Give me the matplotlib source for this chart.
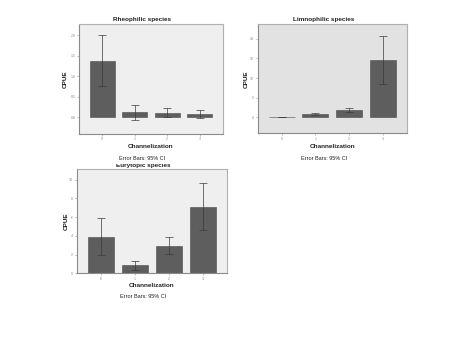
import matplotlib
matplotlib.use("Agg")
import matplotlib.pyplot as plt
from matplotlib.patches import Rectangle
import numpy as np

plt.rcParams['font.family'] = ['Liberation Sans', 'DejaVu Sans']

categories = ["0", "1", "2", "3"]

rheo_mean = [1.37, 0.13, 0.11, 0.07]
rheo_lo = [0.76, -0.06, 0.0, -0.02]
rheo_hi = [2.0, 0.31, 0.23, 0.17]
rheo_ticks = [0.0, 0.5, 1.0, 1.5, 2.0]
rheo_ticklabels = ["0.0", "0.5", "1.0", "1.5", "2.0"]

limno_mean = [0.1, 0.85, 1.8, 14.5]
limno_lo = [0.05, 0.6, 1.3, 8.4]
limno_hi = [0.15, 1.1, 2.3, 20.7]
limno_ticks = [0, 5, 10, 15, 20]
limno_ticklabels = ["0", "5", "10", "15", "20"]

eury_mean = [3.93, 0.86, 2.96, 7.14]
eury_lo = [1.96, 0.32, 2.04, 4.6]
eury_hi = [5.9, 1.36, 3.86, 9.64]
eury_ticks = [0, 2, 4, 6, 8, 10]
eury_ticklabels = ["0", "2", "4", "6", "8", "10"]

W, H = 450, 337
fig = plt.figure(figsize=(W / 100, H / 100), dpi=100)
fig.patch.set_facecolor("white")


def px(x, y):
    return x / W, 1 - y / H


def add_axes(x0, y0, x1, y1):
    return fig.add_axes([x0 / W, 1 - y1 / H, (x1 - x0) / W, (y1 - y0) / H])


def draw(ax, mean, lo, hi, ticks, ticklabels, ylim, xlim, bg):
    x = np.arange(len(categories))
    mean = np.array(mean)
    yerr = np.vstack([mean - np.array(lo), np.array(hi) - mean])
    ax.set_facecolor(bg)
    ax.bar(x, mean, width=0.77, color="#5e5e5e", edgecolor="#4a4a4a", linewidth=0.4, zorder=2)
    ax.errorbar(x, mean, yerr=yerr, fmt="none", ecolor="#3a3a3a", elinewidth=0.5,
                capsize=3.2, capthick=0.5, zorder=3)
    ax.set_xlim(*xlim)
    ax.set_ylim(*ylim)
    ax.set_xticks(x)
    ax.set_xticklabels(categories, fontsize=2.5, color="#777777")
    ax.set_yticks(ticks)
    ax.set_yticklabels(ticklabels, fontsize=2.5, color="#777777")
    ax.tick_params(length=1.5, width=0.4, colors="#888888", pad=1)
    for s in ["top", "right"]:
        ax.spines[s].set_color("#b0b0b0")
        ax.spines[s].set_linewidth(0.8)
    for s in ["left", "bottom"]:
        ax.spines[s].set_color("#8a8a8a")
        ax.spines[s].set_linewidth(0.8)


ax1 = add_axes(79, 24.3, 222.7, 134)
draw(ax1, rheo_mean, rheo_lo, rheo_hi, rheo_ticks, rheo_ticklabels,
     (-0.405, 2.26), (-0.72, 3.71), "#efefef")

ax2 = add_axes(257.7, 24.3, 406.7, 133.3)
draw(ax2, limno_mean, limno_lo, limno_hi, limno_ticks, limno_ticklabels,
     (-4.08, 23.7), (-0.71, 3.70), "#e2e2e2")

ax3 = add_axes(76.7, 169, 226.7, 273.3)
draw(ax3, eury_mean, eury_lo, eury_hi, eury_ticks, eury_ticklabels,
     (0, 11.15), (-0.73, 3.71), "#efefef")

bold = dict(fontsize=4.6, fontweight="bold", color="#222222", ha="center", va="center")
norm = dict(fontsize=4.0, color="#222222", ha="center", va="center")

# titles
fig.text(*px(141.7, 20), "Rheophilic species", **bold)
fig.text(*px(323.8, 20), "Limnophilic species", **bold)
fig.text(*px(143.3, 165.5), "Eurytopic species", zorder=0.5, **bold)

# cover top of clipped title
fig.patches.append(Rectangle(px(70, 163.8), 160 / W, 10 / H, transform=fig.transFigure,
                             facecolor="white", edgecolor="none", zorder=1))

# y labels
for (xx, yy) in [(65.7, 79.3), (246.7, 79.3), (66, 221)]:
    fig.text(*px(xx, yy), "CPUE", rotation=90, zorder=3, **bold)

# x labels
for (xx, yy) in [(150.8, 146), (332.3, 146), (152, 285.3)]:
    fig.text(*px(xx, yy), "Channelization", zorder=3, **bold)

# error bar notes
for (xx, yy) in [(141.7, 159), (324, 158.7), (143.3, 296.7)]:
    fig.text(*px(xx, yy), "Error Bars: 95% CI", zorder=3, **norm)

fig.savefig("out.png", dpi=100)
